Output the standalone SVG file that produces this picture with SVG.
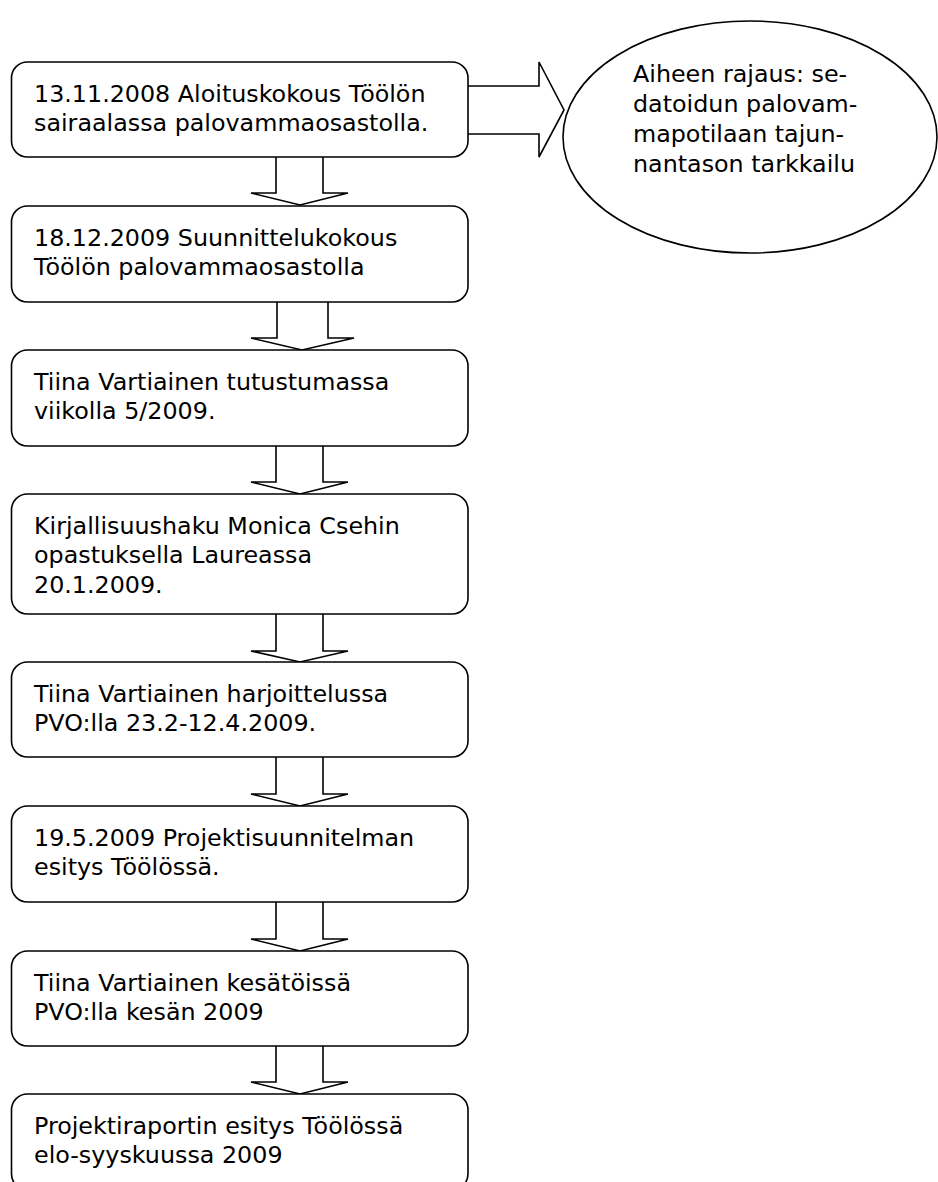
<svg xmlns="http://www.w3.org/2000/svg" width="938" height="1182" viewBox="0 0 938 1182">
<style>
  .box { fill: #ffffff; stroke: #000000; stroke-width: 1.6; }
  .arr { fill: #ffffff; stroke: #000000; stroke-width: 1.6; stroke-linejoin: miter; }
  .t { font-family: "DejaVu Sans", Verdana, sans-serif; font-size: 23.8px; fill: #000000; }
</style>
<rect x="0" y="0" width="938" height="1182" fill="#ffffff"/>
<g id="connectors">
  <path class="arr" d="M468,86 L539,86 L539,62 L564,110 L539,157 L539,134 L468,134"/>
  <path class="arr" d="M276,157 L276,193 L251,193 L300,205 L348,193 L323,193 L323,157"/>
  <path class="arr" d="M277,302 L277,338 L251,338 L302,350 L354,338 L328,338 L328,302"/>
  <path class="arr" d="M276,446 L276,482 L251,482 L300,494 L348,482 L323,482 L323,446"/>
  <path class="arr" d="M276,614 L276,651 L251,651 L300,662 L348,651 L323,651 L323,614"/>
  <path class="arr" d="M276,757 L276,794 L251,794 L300,806 L348,794 L323,794 L323,757"/>
  <path class="arr" d="M276,902 L276,939 L251,939 L300,951 L348,939 L323,939 L323,902"/>
  <path class="arr" d="M276,1046 L276,1082 L251,1082 L300,1094 L348,1082 L323,1082 L323,1046"/>
</g>
<g id="node1">
  <rect class="box" x="11.5" y="62" width="456.5" height="95" rx="16" ry="16"/>
  <text class="t" x="34" y="101.5">13.11.2008 Aloituskokous Töölön</text>
  <text class="t" x="34" y="131">sairaalassa palovammaosastolla.</text>
</g>
<g id="node2">
  <rect class="box" x="11.5" y="206" width="456.5" height="96" rx="16" ry="16"/>
  <text class="t" x="34" y="245.5">18.12.2009 Suunnittelukokous</text>
  <text class="t" x="34" y="275">Töölön palovammaosastolla</text>
</g>
<g id="node3">
  <rect class="box" x="11.5" y="350" width="456.5" height="96" rx="16" ry="16"/>
  <text class="t" x="34" y="389.5">Tiina Vartiainen tutustumassa</text>
  <text class="t" x="34" y="419">viikolla 5/2009.</text>
</g>
<g id="node4">
  <rect class="box" x="11.5" y="494" width="456.5" height="120" rx="16" ry="16"/>
  <text class="t" x="34" y="533.5">Kirjallisuushaku Monica Csehin</text>
  <text class="t" x="34" y="563">opastuksella Laureassa</text>
  <text class="t" x="34" y="592.5">20.1.2009.</text>
</g>
<g id="node5">
  <rect class="box" x="11.5" y="662" width="456.5" height="95" rx="16" ry="16"/>
  <text class="t" x="34" y="701.5">Tiina Vartiainen harjoittelussa</text>
  <text class="t" x="34" y="731">PVO:lla 23.2-12.4.2009.</text>
</g>
<g id="node6">
  <rect class="box" x="11.5" y="806" width="456.5" height="96" rx="16" ry="16"/>
  <text class="t" x="34" y="845.5">19.5.2009 Projektisuunnitelman</text>
  <text class="t" x="34" y="875">esitys Töölössä.</text>
</g>
<g id="node7">
  <rect class="box" x="11.5" y="951" width="456.5" height="95" rx="16" ry="16"/>
  <text class="t" x="34" y="990.5">Tiina Vartiainen kesätöissä</text>
  <text class="t" x="34" y="1020">PVO:lla kesän 2009</text>
</g>
<g id="node8">
  <rect class="box" x="11.5" y="1094" width="456.5" height="96" rx="16" ry="16"/>
  <text class="t" x="34" y="1133.5">Projektiraportin esitys Töölössä</text>
  <text class="t" x="34" y="1163">elo-syyskuussa 2009</text>
</g>
<g id="node9">
  <ellipse class="box" cx="750" cy="137" rx="187" ry="116"/>
  <text class="t" x="633" y="81.5">Aiheen rajaus: se-</text>
  <text class="t" x="633" y="111.5">datoidun palovam-</text>
  <text class="t" x="633" y="141.5">mapotilaan tajun-</text>
  <text class="t" x="633" y="171.5">nantason tarkkailu</text>
</g>
</svg>
